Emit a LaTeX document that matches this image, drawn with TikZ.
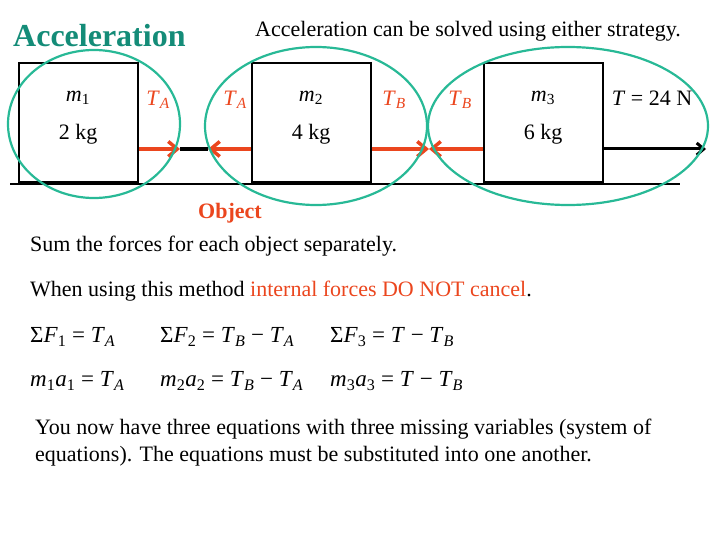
\documentclass[tikz,border=0pt]{standalone}
\usepackage{fontspec}
\setmainfont{Liberation Serif}
\usetikzlibrary{arrows.meta}
\definecolor{teal1}{RGB}{40,185,150}
\definecolor{ttl}{RGB}{20,140,120}
\definecolor{rd}{RGB}{235,70,30}
\newcommand{\iv}[2]{\textit{#1}\textsubscript{\textit{#2}}}
\newcommand{\sv}[2]{\textit{#1}\textsubscript{#2}}
\begin{document}
\begin{tikzpicture}[x=1pt,y=-1pt,
 blk/.style={draw,line width=2pt,minimum width=119pt,minimum height=119pt,inner sep=0},
 ell/.style={draw=teal1,line width=2.2pt},
 ra/.style={rd,line width=3.5pt,-{Straight Barb[length=9pt,width=15pt]}},
 lab/.style={font=\fontsize{22}{24}\selectfont},
 txt/.style={anchor=west,font=\fontsize{22}{26}\selectfont,inner sep=0},
 eq/.style={anchor=west,font=\fontsize{23}{26}\selectfont,inner sep=0}]
\useasboundingbox (0,0) rectangle (720,540);
\node[anchor=west,text=ttl,font=\fontsize{32}{36}\selectfont\bfseries,inner sep=0] (title) at (13,36) {Acceleration};
\node[font=\fontsize{22}{24}\selectfont,inner sep=0] (sub) at (468,31) {Acceleration can be solved using either strategy.};
\draw[line width=2pt] (10,184) -- (680,184);
\node[blk] (b1) at (78.5,122.5) {};
\node[blk] (b2) at (311,122.5) {};
\node[blk] (b3) at (543.5,122.5) {};
\coordinate (r1) at (180,149); \coordinate (r2) at (208,149);
\coordinate (mid) at (429,149); \coordinate (tend) at (706,149);
\draw[line width=3.5pt] (r1) -- (r2);
\draw[ra] (b1.east|-r1) -- (r1);
\draw[ra] (b2.west|-r1) -- (r2);
\draw[ra] (b2.east|-r1) -- (mid);
\draw[ra] (b3.west|-r1) -- (mid);
\draw[line width=3pt,-{Straight Barb[length=7pt,width=12pt]}] (b3.east|-r1) -- (tend);
\draw[ell] (94,124) ellipse (86 and 74);
\draw[ell] (316,126) ellipse (111 and 79);
\draw[ell] (568,126) ellipse (140 and 79);
\node[lab] (m1) at (78,98) {\sv{m}{1}};
\node[lab] (k1) at (78,134) {2 kg};
\node[lab,text=rd] (ta1) at (158,100) {\iv{T}{A}};
\node[lab,text=rd] (ta2) at (235,100) {\iv{T}{A}};
\node[lab] (m2) at (311,98) {\sv{m}{2}};
\node[lab] (k2) at (311,134) {4 kg};
\node[lab,text=rd] (tb1) at (394,100) {\iv{T}{B}};
\node[lab,text=rd] (tb2) at (460,100) {\iv{T}{B}};
\node[lab] (m3) at (543,98) {\sv{m}{3}};
\node[lab] (k3) at (543,134) {6 kg};
\node[lab] (t) at (652,98) {\textit{T} = 24 N};
\node[font=\fontsize{22}{24}\selectfont\bfseries,text=rd,inner sep=0] (obj) at (230,213) {Object};
\node[txt] (s1) at (30,246) {Sum the forces for each object separately.};
\node[txt] (s2) at (30,291) {When using this method \textcolor{rd}{internal forces DO NOT cancel}.};
\node[eq] (e1) at (30,337) {Σ\sv{F}{1} = \iv{T}{A}};
\node[eq] (e2) at (160,337) {Σ\sv{F}{2} = \iv{T}{B} − \iv{T}{A}};
\node[eq] (e3) at (330,337) {Σ\sv{F}{3} = \textit{T} − \iv{T}{B}};
\node[eq] (e4) at (30,381) {\sv{m}{1}\sv{a}{1} = \iv{T}{A}};
\node[eq] (e5) at (160,381) {\sv{m}{2}\sv{a}{2} = \iv{T}{B} − \iv{T}{A}};
\node[eq] (e6) at (330,381) {\sv{m}{3}\sv{a}{3} = \textit{T} − \iv{T}{B}};
\node[txt,text width=670pt,align=flush left,font=\fontsize{22}{27}\selectfont] (p) at (35,443) {You now have three equations with three missing variables (system of equations). The equations must be substituted into one another.};
\end{tikzpicture}
\end{document}
